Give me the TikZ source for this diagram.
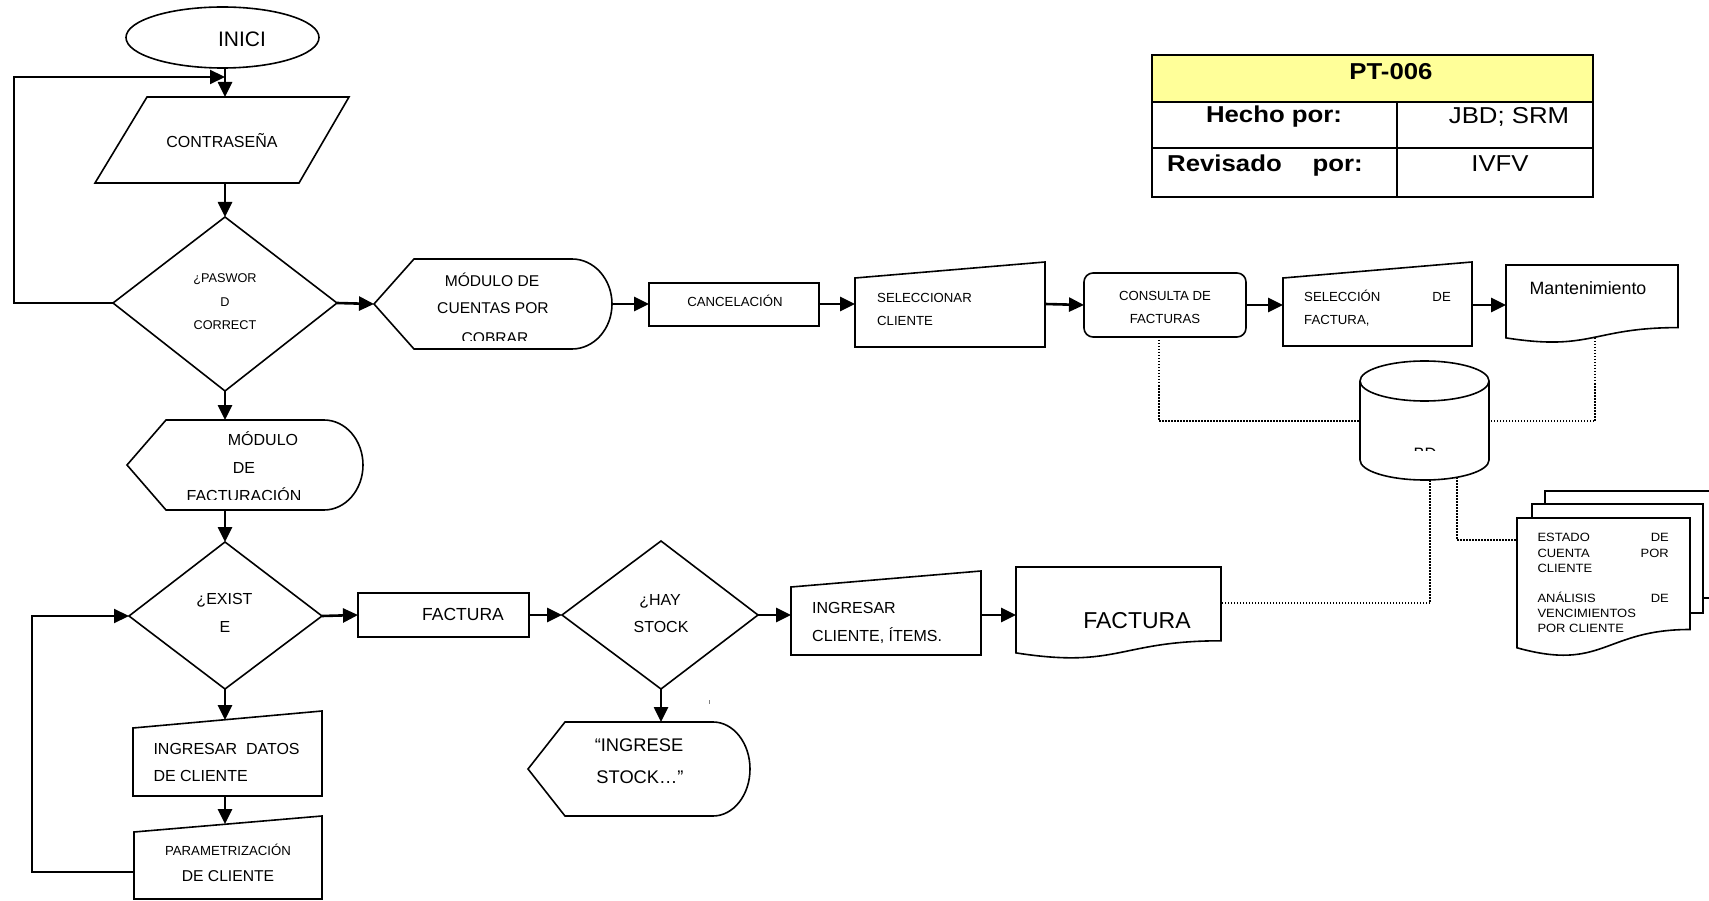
\documentclass[tikz,border=0pt]{standalone}
\usepackage{fontspec}
\setmainfont{Liberation Sans}
\newfontfamily\stretchfont{Liberation Sans}[FakeStretch=1.12]
\newfontfamily\mdfont{Liberation Sans}[FakeStretch=1.08]
\usetikzlibrary{arrows.meta,shapes.geometric}
\newcommand\fsz[1]{\fontsize{#1pt}{#1pt}\selectfont}
\definecolor{tyellow}{RGB}{255,255,153}
\begin{document}
\begin{tikzpicture}[x=1pt,y=-1pt,
  shp/.style={draw=black, line width=1.6pt, line join=miter},
  arr/.style={line width=2.6pt, -{Triangle[length=15pt,width=14pt]}},
  fbk/.style={line width=2.2pt},
  dotln/.style={line width=1.5pt, dash pattern=on 1.5pt off 1.5pt},
  lbl/.style={inner sep=0pt, anchor=base},
  lbll/.style={inner sep=0pt, anchor=base west},
  lblr/.style={inner sep=0pt, anchor=base east},
  tline/.style={draw=black, line width=2pt},
]
\useasboundingbox (0,0) rectangle (1709,901);
\clip (0,0) rectangle (1709,901);

% ---------- table ----------
\fill[tyellow] (1152,55) rectangle (1593,102);
\draw[tline] (1152,55) rectangle (1593,197);
\draw[tline] (1152,102) -- (1593,102);
\draw[tline] (1152,148) -- (1593,148);
\draw[tline] (1397,102) -- (1397,197);
\node[lbl, font=\stretchfont\bfseries\fsz{23}] (tpt) at (1391,80) {PT-006};
\node[lbl, font=\stretchfont\bfseries\fsz{23}] (thecho) at (1274,122.7) {Hecho por:};
\node[lbl, font=\stretchfont\fsz{23}] (tjbd) at (1509,124) {JBD; SRM};
\node[lbll, font=\stretchfont\bfseries\fsz{23}] (trev) at (1167,171.7) {Revisado\hspace{31pt}por:};
\node[lbl, font=\stretchfont\fsz{23}] (tivfv) at (1500,171.7) {IVFV};

% ---------- INICI ----------
\node[shp, ellipse, minimum width=193pt, minimum height=61pt, inner sep=0pt] (inici) at (222.5,37.5) {};
\node[lbl, font=\fsz{21}] (inicit) at (242,46.7) {INICI};

% ---------- CONTRASEÑA ----------
\draw[shp] (147,97) -- (349,97) -- (299,183) -- (95,183) -- cycle;
\coordinate (contr-t) at (225,97);
\coordinate (contr-b) at (225,183);
\node[lbl, font=\fsz{16}] (contr) at (222,147.5) {CONTRASEÑA};

% ---------- diamond 1 ----------
\draw[shp] (225,217) -- (337,303) -- (225,391) -- (113,303) -- cycle;
\coordinate (d1-t) at (225,217);
\coordinate (d1-r) at (337,303);
\coordinate (d1-b) at (225,391);
\coordinate (d1-l) at (113,303);
\node[lbl, font=\fsz{12.7}] (d1a) at (225,283) {¿PASWOR};
\node[lbl, font=\fsz{12.7}] (d1b) at (225,306.5) {D};
\node[lbl, font=\fsz{12.7}] (d1c) at (225,329.5) {CORRECT};

% ---------- módulo cuentas por cobrar ----------
\draw[shp] (374,304) -- (414,259) -- (572,259) arc[start angle=-90, end angle=90, x radius=40, y radius=45] -- (414,349) -- cycle;
\coordinate (cxc-l) at (374,304);
\coordinate (cxc-r) at (612,304);
\node[lbl, font=\fsz{15.6}] (cxca) at (492,286.7) {MÓDULO DE};
\node[lbl, font=\fsz{15.6}] (cxcb) at (493,314) {CUENTAS POR};
\begin{scope}
\clip (374,259) rectangle (612,340.5);
\node[lbl, font=\fsz{15.6}] (cxcc) at (495,344) {COBRAR};
\end{scope}

% ---------- cancelación ----------
\draw[shp] (649,283) rectangle (819,326);
\coordinate (can-l) at (649,304);
\coordinate (can-r) at (819,304);
\node[lbl, font=\fsz{13.2}] (cant) at (735,306.7) {CANCELACIÓN};

% ---------- seleccionar cliente ----------
\draw[shp] (855,278) -- (1045,262) -- (1045,347) -- (855,347) -- cycle;
\coordinate (scl-l) at (855,304);
\coordinate (scl-r) at (1045,304);
\node[lbll, font=\fsz{13.2}] (scla) at (877,302.7) {SELECCIONAR};
\node[lbll, font=\fsz{13.2}] (sclb) at (877,325.7) {CLIENTE};

% ---------- consulta de facturas ----------
\draw[shp, rounded corners=9pt] (1084,273) rectangle (1246,337);
\coordinate (con-l) at (1084,305);
\coordinate (con-r) at (1246,305);
\coordinate (con-b) at (1159,337);
\node[lbl, font=\fsz{13.2}] (cona) at (1165,300.7) {CONSULTA DE};
\node[lbl, font=\fsz{13.2}] (conb) at (1165,323.7) {FACTURAS};

% ---------- selección de factura ----------
\draw[shp] (1283,278) -- (1472,262) -- (1472,346) -- (1283,346) -- cycle;
\coordinate (sf-l) at (1283,305);
\coordinate (sf-r) at (1472,305);
\node[lbll, font=\fsz{13.2}] (sfa) at (1304,301.7) {SELECCIÓN};
\node[lblr, font=\fsz{13.2}] (sfb) at (1451,301.7) {DE};
\node[lbll, font=\fsz{13.2}] (sfc) at (1304,324.7) {FACTURA,};

% ---------- mantenimiento ----------
\draw[shp] (1506,265) -- (1678,265) -- (1678,327.6) .. controls (1592,327.6) and (1592,351.4) .. (1506,337.9) -- cycle;
\coordinate (man-l) at (1506,305);
\coordinate (man-b) at (1595,338);
\node[lbl, font=\fsz{17.8}] (mant) at (1588,294.3) {Mantenimiento};

% ---------- BD cylinder ----------
\draw[shp, fill=white] (1360,381) -- (1360,460) arc[start angle=180, end angle=0, x radius=64.5, y radius=20] -- (1489,381);
\draw[shp] (1424.5,381) ellipse [x radius=64.5, y radius=20];
\coordinate (bd-l) at (1360,421);
\coordinate (bd-r) at (1489,421);
\coordinate (bd-b1) at (1430,480);
\coordinate (bd-b2) at (1457,477);
\begin{scope}
\clip (1360,381) rectangle (1489,450.3);
\node[lbl, font=\fsz{16.5}] (bdt) at (1425,459.8) {BD};
\end{scope}

% ---------- módulo de facturación ----------
\draw[shp] (127,465) -- (166,420) -- (324,420) arc[start angle=-90, end angle=90, x radius=39, y radius=45] -- (166,510) -- cycle;
\coordinate (fac-t) at (225,420);
\coordinate (fac-b) at (225,510);
\node[lbl, font=\fsz{16}] (faca) at (263,445.7) {MÓDULO};
\node[lbl, font=\fsz{16}] (facb) at (244,473.3) {DE};
\begin{scope}
\clip (127,420) rectangle (363,499.5);
\node[lbl, font=\fsz{16}] (facc) at (244,501.5) {FACTURACIÓN};
\end{scope}

% ---------- diamond 2 ----------
\draw[shp] (225,542) -- (322,616) -- (225,689) -- (129,616) -- cycle;
\coordinate (d2-t) at (225,542);
\coordinate (d2-r) at (322,616);
\coordinate (d2-b) at (225,689);
\coordinate (d2-l) at (129,616);
\node[lbl, font=\fsz{16}] (d2a) at (224.5,604) {¿EXIST};
\node[lbl, font=\fsz{16}] (d2b) at (225,632.3) {E};

% ---------- ingresar datos de cliente ----------
\draw[shp] (133,728) -- (322,711) -- (322,796) -- (133,796) -- cycle;
\coordinate (idc-t) at (225,720);
\coordinate (idc-b) at (225,796);
\node[lbll, font=\fsz{16}] (idca) at (153.3,754) {INGRESAR\hspace{4.5pt} DATOS};
\node[lbll, font=\fsz{16}] (idcb) at (153.3,781) {DE CLIENTE};

% ---------- parametrización de cliente ----------
\draw[shp] (134,832) -- (322,816) -- (322,899) -- (134,899) -- cycle;
\coordinate (par-t) at (225,824);
\coordinate (par-l) at (134,872);
\node[lbl, font=\fsz{13.2}] (para) at (228,855.7) {PARAMETRIZACIÓN};
\node[lbl, font=\fsz{15.7}] (parb) at (228,881) {DE CLIENTE};

% ---------- factura box ----------
\draw[shp] (358,593) rectangle (529,637);
\coordinate (fb-l) at (358,615);
\coordinate (fb-r) at (529,615);
\node[lbl, font=\fsz{17.5}] (fbt) at (463,620) {FACTURA};

% ---------- diamond 3 ----------
\draw[shp] (562,615) -- (661,541) -- (758,615) -- (661,689) -- cycle;
\coordinate (d3-l) at (562,615);
\coordinate (d3-r) at (758,615);
\coordinate (d3-b) at (661,689);
\node[lbl, font=\fsz{16}] (d3a) at (660,605) {¿HAY};
\node[lbl, font=\fsz{16}] (d3b) at (661,632.3) {STOCK};
\draw[line width=0.8pt, gray] (709,700) -- (709,703.5);

% ---------- ingrese stock ----------
\draw[shp] (528,769) -- (565,722) -- (713,722) arc[start angle=-90, end angle=90, x radius=37, y radius=47] -- (565,816) -- cycle;
\coordinate (ing-t) at (661,722);
\node[lbl, font=\fsz{18.3}] (inga) at (639,751.7) {“INGRESE};
\node[lbl, font=\fsz{18.3}] (ingb) at (640,783.3) {STOCK…”};

% ---------- ingresar cliente, ítems ----------
\draw[shp] (791,587) -- (981,571) -- (981,655) -- (791,655) -- cycle;
\coordinate (ic-l) at (791,615);
\coordinate (ic-r) at (981,615);
\node[lbll, font=\fsz{16}] (ica) at (812,613.3) {INGRESAR};
\node[lbll, font=\fsz{16}] (icb) at (812,641.7) {CLIENTE, ÍTEMS.};

% ---------- factura document ----------
\draw[shp] (1016,567) -- (1221,567) -- (1221,640.8) .. controls (1118.5,640.8) and (1118.5,668.9) .. (1016,652.9) -- cycle;
\coordinate (fd-l) at (1016,615);
\coordinate (fd-r) at (1221,603);
\node[lbl, font=\fsz{23}] (fdt) at (1137,628.3) {FACTURA};

% ---------- multidocument ----------
\draw[shp] (1545,504) -- (1545,491) -- (1715,491);
\draw[shp] (1715,598) -- (1703,598);
\draw[shp] (1532,518) -- (1532,504) -- (1703,504) -- (1703,613) -- (1690,613);
\draw[shp, fill=white] (1517,518) -- (1690,518) -- (1690,629.5) .. controls (1603.5,629.5) and (1603.5,671.9) .. (1517,647.8) -- cycle;
\coordinate (md-l) at (1517,540);
\node[lbll, font=\mdfont\fsz{12}] (mda) at (1537.3,541.7) {ESTADO};
\node[lblr, font=\mdfont\fsz{12}] (mdb) at (1669,541.7) {DE};
\node[lbll, font=\mdfont\fsz{12}] (mdc) at (1537.3,557.3) {CUENTA};
\node[lblr, font=\mdfont\fsz{12}] (mdd) at (1669,557.3) {POR};
\node[lbll, font=\mdfont\fsz{12}] (mde) at (1537.3,572.7) {CLIENTE};
\node[lbll, font=\mdfont\fsz{12}] (mdf) at (1537.3,602.7) {ANÁLISIS};
\node[lblr, font=\mdfont\fsz{12}] (mdg) at (1669,602.7) {DE};
\node[lbll, font=\mdfont\fsz{12}] (mdh) at (1537.3,617.7) {VENCIMIENTOS};
\node[lbll, font=\mdfont\fsz{12}] (mdi) at (1537.3,632.7) {POR CLIENTE};

% ---------- connectors ----------
\draw[arr] (inici.south -| contr-t) -- (contr-t);
\draw[fbk, -{Triangle[length=15pt,width=14pt]}] (d1-l) -- (14,303) -- (14,77) -- (225,77);
\draw[arr] (contr-b) -- (d1-t);
\draw[arr] (d1-r) -- (cxc-l);
\draw[arr] (d1-b) -- (fac-t);
\draw[arr] (cxc-r) -- (can-l);
\draw[arr] (can-r) -- (scl-l);
\draw[arr] (scl-r) -- (con-l);
\draw[arr] (con-r) -- (sf-l);
\draw[arr] (sf-r) -- (man-l);
\draw[arr] (fac-b) -- (d2-t);
\draw[arr] (d2-r) -- (fb-l);
\draw[arr] (d2-b) -- (idc-t);
\draw[arr] (idc-b) -- (par-t);
\draw[fbk, -{Triangle[length=15pt,width=14pt]}] (par-l) -- (32,872) -- (32,616) -- (d2-l);
\draw[arr] (fb-r) -- (d3-l);
\draw[arr] (d3-b) -- (ing-t);
\draw[arr] (d3-r) -- (ic-l);
\draw[arr] (ic-r) -- (fd-l);

% dotted links
\draw[dotln] (con-b) -- (con-b |- bd-l) -- (bd-l);
\draw[dotln] (man-b) -- (man-b |- bd-r) -- (bd-r);
\draw[dotln] (bd-b1) -- (bd-b1 |- fd-r) -- (fd-r);
\draw[dotln] (bd-b2) -- (bd-b2 |- md-l) -- (md-l);
\end{tikzpicture}
\end{document}
